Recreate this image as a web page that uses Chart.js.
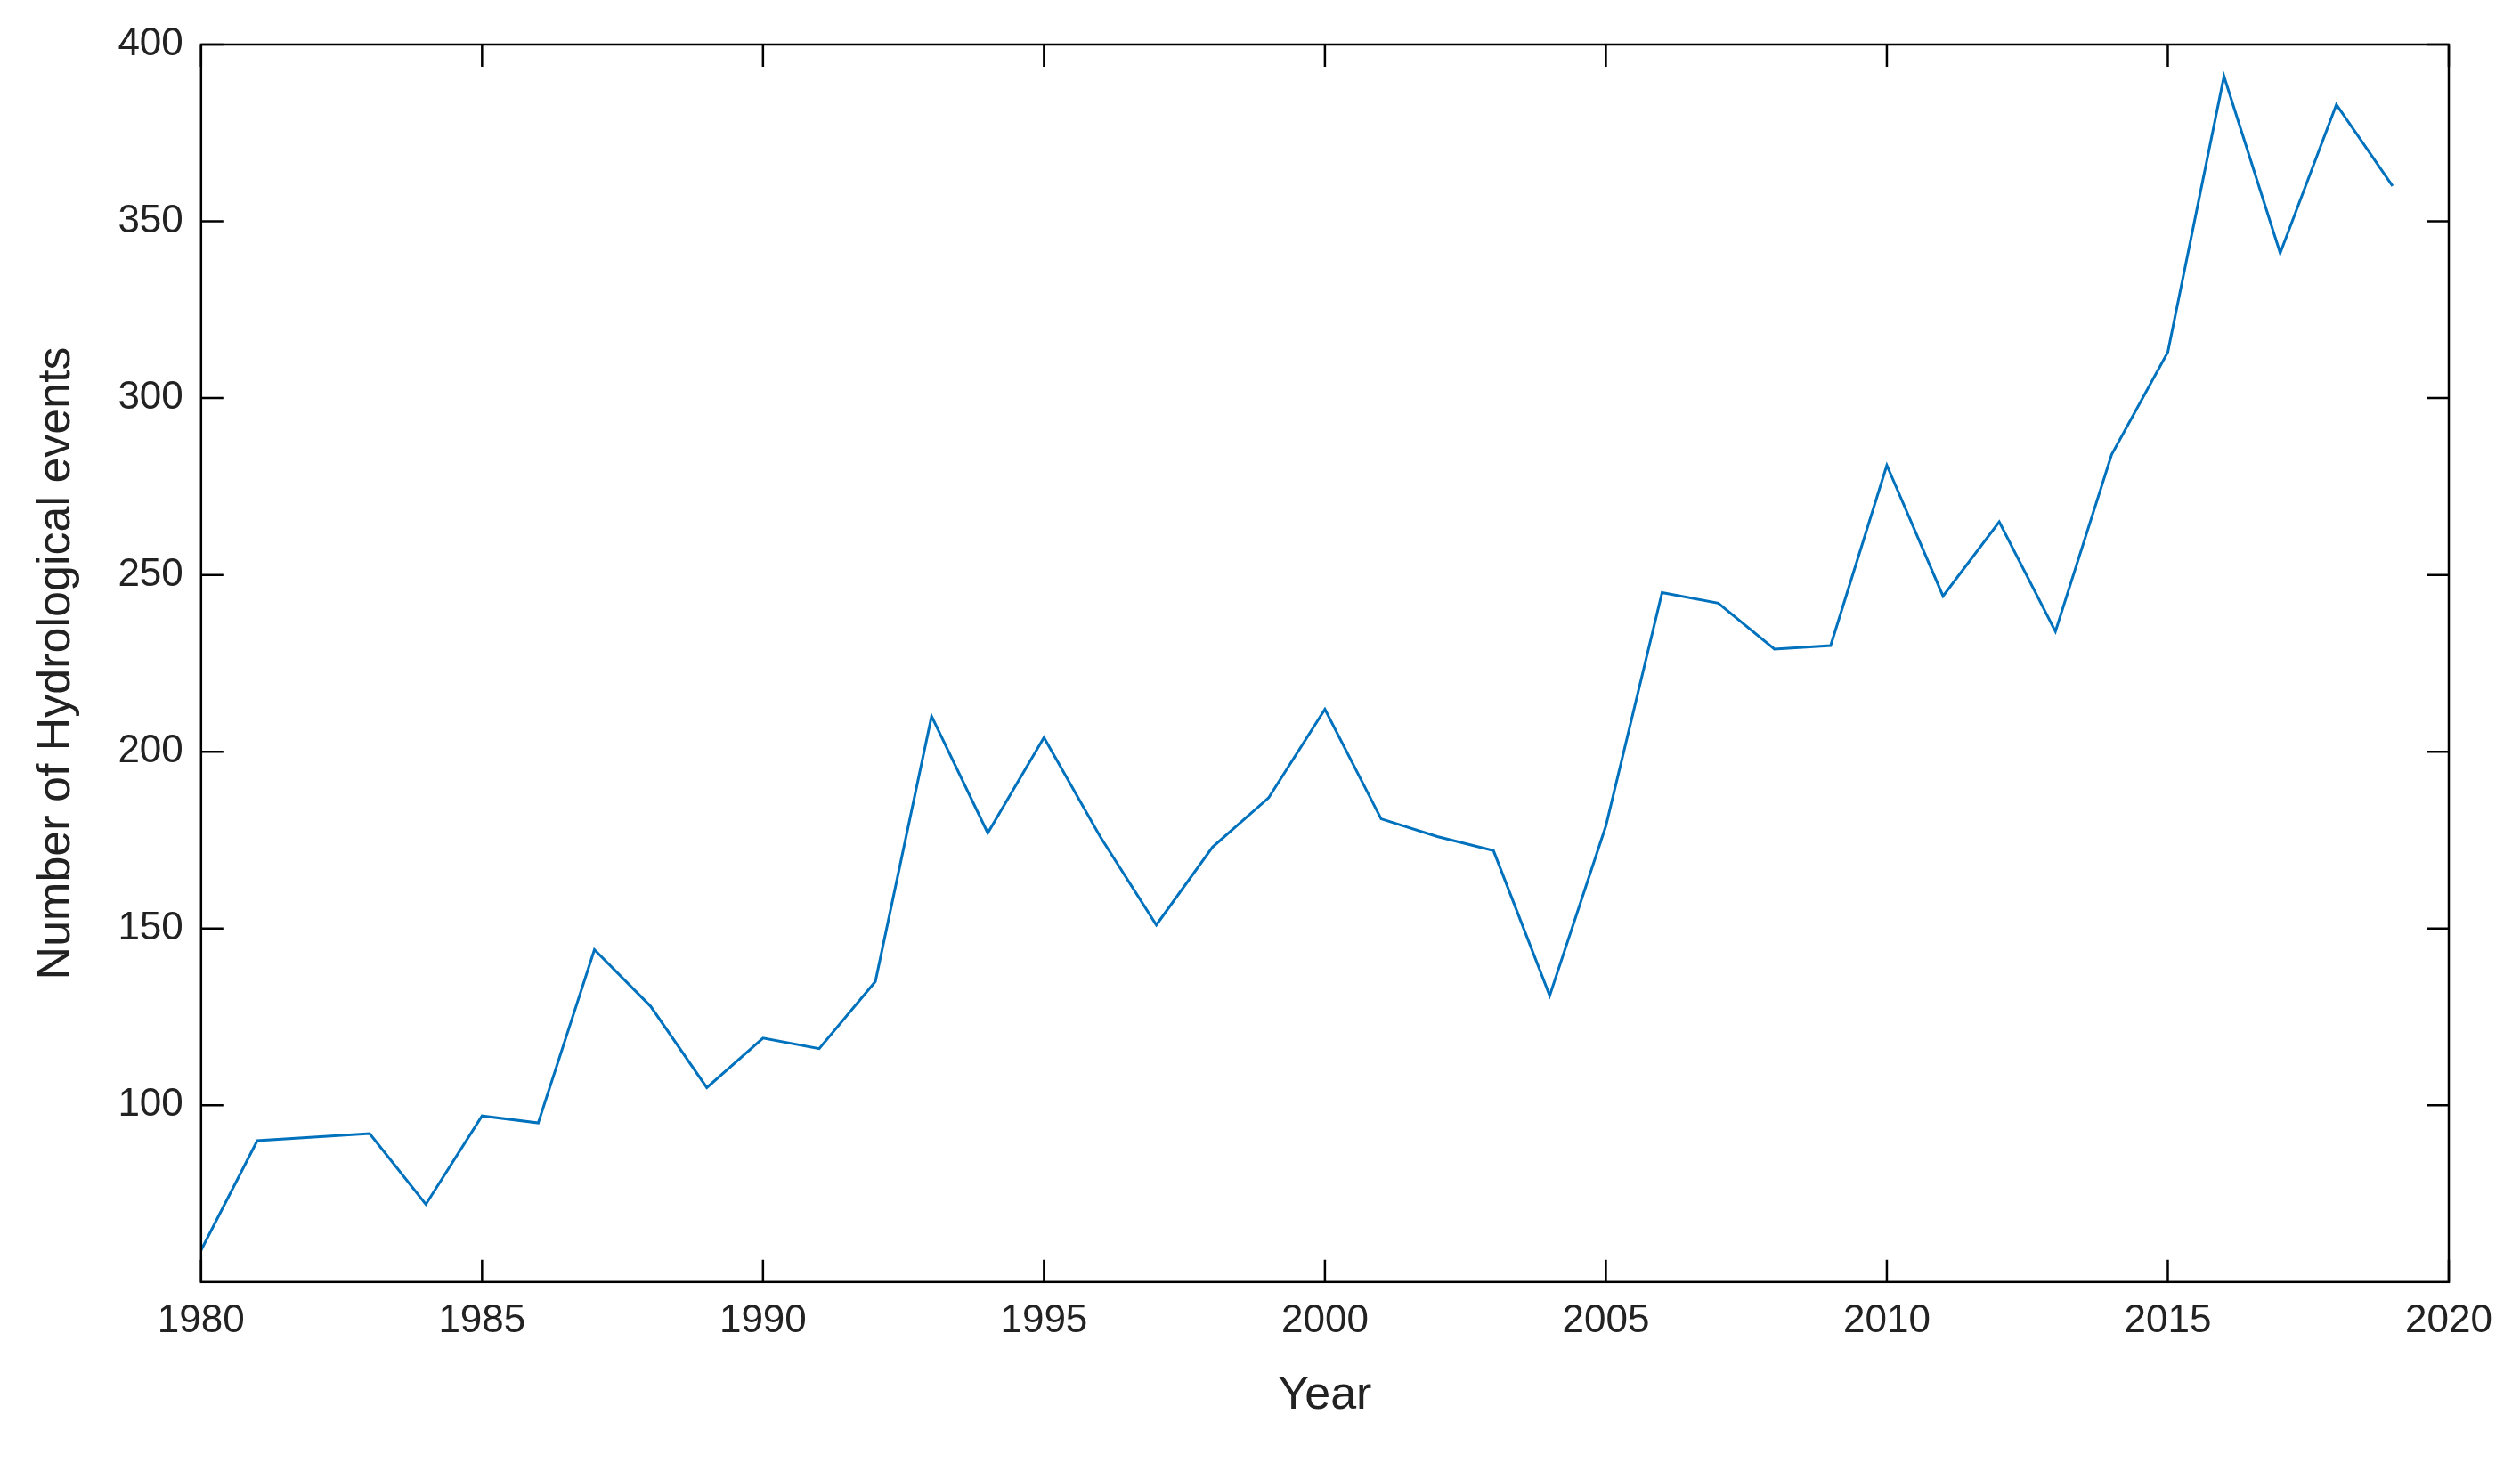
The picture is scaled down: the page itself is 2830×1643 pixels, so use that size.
<!DOCTYPE html>
<html>
<head>
<meta charset="utf-8">
<script src="https://cdn.jsdelivr.net/npm/chart.js@4/dist/chart.umd.min.js"></script>
<style>body{margin:0;background:#fff}</style>
</head>
<body>
<canvas id="myChart" width="2830" height="1643"></canvas>
<script>
const years = [];
for (let y = 1980; y <= 2019; y++) years.push(y);
const events = [59, 90, 91, 92, 72, 97, 95, 144, 128, 105, 119, 116, 135, 210, 177, 204, 176, 151, 173, 187,
    212, 181, 176, 172, 131, 179, 245, 242, 229, 230, 281, 244, 265, 234, 284, 313, 391, 341, 383, 360];
const xTicks = [1980, 1985, 1990, 1995, 2000, 2005, 2010, 2015, 2020];
const yTicks = [100, 150, 200, 250, 300, 350, 400];

// box around plot area with inward ticks on all four sides
const boxPlugin = {
    id: 'box',
    afterDraw(chart) {
        const c = chart.ctx, a = chart.chartArea;
        const xs = chart.scales.x, ys = chart.scales.y;
        c.save();
        c.strokeStyle = '#000';
        c.lineWidth = 2.5;
        c.strokeRect(a.left, a.top, a.right - a.left, a.bottom - a.top);
        const t = 25;
        c.beginPath();
        xTicks.forEach(v => {
            const px = xs.getPixelForValue(v);
            c.moveTo(px, a.bottom); c.lineTo(px, a.bottom - t);
            c.moveTo(px, a.top); c.lineTo(px, a.top + t);
        });
        yTicks.forEach(v => {
            const py = ys.getPixelForValue(v);
            c.moveTo(a.left, py); c.lineTo(a.left + t, py);
            c.moveTo(a.right, py); c.lineTo(a.right - t, py);
        });
        c.stroke();
        c.restore();
    }
};

const ctx = document.getElementById('myChart').getContext('2d');
new Chart(ctx, {
    type: 'line',
    data: {
        datasets: [{
            data: years.map((y, i) => ({ x: y, y: events[i] })),
            borderColor: '#0072BD',
            borderWidth: 3,
            pointRadius: 0,
            tension: 0
        }]
    },
    options: {
        responsive: false,
        animation: false,
        layout: { padding: { top: 50, right: 80, left: 28, bottom: 40 } },
        plugins: { legend: { display: false }, tooltip: { enabled: false } },
        scales: {
            x: {
                type: 'linear',
                min: 1980,
                max: 2020,
                afterBuildTicks: s => { s.ticks = xTicks.map(v => ({ value: v })); },
                grid: { display: false, drawTicks: false },
                border: { display: false },
                ticks: { color: '#222', font: { family: 'Arial, Liberation Sans', size: 44 }, padding: 18, maxRotation: 0, callback: v => String(v) },
                title: { display: true, text: 'Year', color: '#222', font: { family: 'Arial, Liberation Sans', size: 52 }, padding: { top: 8 } }
            },
            y: {
                min: 50,
                max: 400,
                afterBuildTicks: s => { s.ticks = yTicks.map(v => ({ value: v })); },
                grid: { display: false, drawTicks: false },
                border: { display: false },
                ticks: { color: '#222', font: { family: 'Arial, Liberation Sans', size: 44 }, padding: 20 },
                title: { display: true, text: 'Number of Hydrological events', color: '#222', font: { family: 'Arial, Liberation Sans', size: 52 }, padding: { bottom: 18 } }
            }
        }
    },
    plugins: [boxPlugin]
});
</script>
</body>
</html>
